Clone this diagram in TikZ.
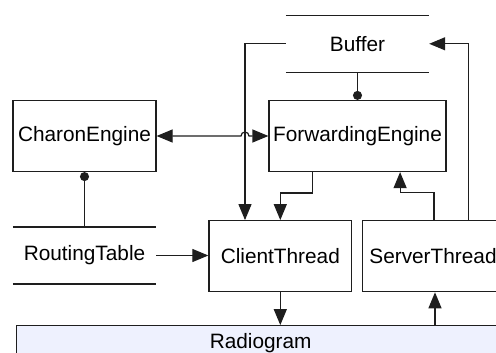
\documentclass[tikz,border=0pt]{standalone}
\usepackage{fontspec}
\setmainfont{Liberation Sans}
\usetikzlibrary{arrows.meta}
\definecolor{radiofill}{RGB}{238,241,254}
\definecolor{edge}{RGB}{30,30,30}
\begin{document}
\begin{tikzpicture}[x=1pt,y=-1pt,
  every node/.style={font=\fontsize{20.8}{25}\selectfont, inner sep=0pt},
  box/.style={draw=edge, line width=1.2pt, rectangle, minimum width=#1, minimum height=71},
  store/.style={rectangle, minimum width=143, minimum height=56.5},
  conn/.style={line width=1.2pt, draw=edge},
  arr/.style={conn, -{Triangle[length=16pt,width=13pt,fill=edge]}},
  twoway/.style={conn, {Triangle[length=16pt,width=13pt,fill=edge]}-{Triangle[length=16pt,width=13pt,fill=edge]}},
  dot/.style={conn, {Circle[length=9pt,fill=edge]}-}]
\useasboundingbox (0,0) rectangle (496,353);
\clip (0,0) rectangle (496,353);

% components
\node[box=143] (charon) at (84.5,136) {CharonEngine};
\node[box=177] (fwd) at (357.5,136) {ForwardingEngine};
\node[box=142.7] (client) at (280.3,256.2) {ClientThread};
\node[box=140.6] (server) at (433,256.2) {ServerThread};
\node[draw=edge, line width=1.2pt, fill=radiofill, rectangle,
      minimum width=488, minimum height=34] (radio) at (260.7,342.7) {Radiogram};

% data stores
\node[store] (buffer) at (357.5,43.8) {Buffer};
\node[store] (routing) at (84.5,255.5) {RoutingTable};
\draw[conn] (buffer.north west) -- (buffer.north east)
            (buffer.south west) -- (buffer.south east);
\draw[conn] (routing.north west) -- (routing.north east)
            (routing.south west) -- (routing.south east);

\coordinate (hopx) at (245,0);
\coordinate (hopl) at (241,0);

% connectors
\draw[dot] (fwd.north) -- (buffer.south);
\draw[dot] (charon.south) -- (routing.north);
\draw[arr] (buffer.west) -| (client.north -| hopx);
\draw[twoway]
  (charon.east) -- (charon.east -| hopl) arc (180:360:4) -- (fwd.west);
\draw[arr] ([xshift=44.3]fwd.south west) -- ++(0,20.8) -| (client.north);
\draw[arr] ([xshift=1]server.north) -- ++(0,-27.3) -| ([xshift=131.7]fwd.south west);
\draw[arr] ([xshift=106.6]server.north west) |- (buffer.east);
\draw[arr] (routing.east) -- (routing.east -| client.west);
\draw[arr] (client.south) -- (client.south |- radio.north);
\draw[arr] ([xshift=2]server.south |- radio.north) -- ([xshift=2]server.south);
\end{tikzpicture}
\end{document}
